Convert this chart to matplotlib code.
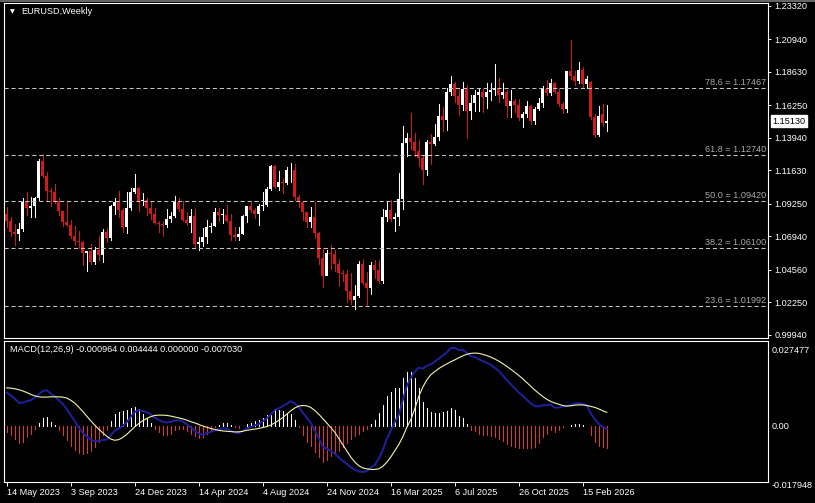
import matplotlib
matplotlib.use('Agg')
import matplotlib.pyplot as plt
import matplotlib.transforms as mtransforms
from matplotlib.lines import Line2D

# weekly EURUSD candles, first bar = week of 14 May 2023
opens = [1.0850, 1.0805, 1.0722, 1.0708, 1.0749, 1.0940, 1.0894, 1.0910, 1.0968, 1.1228,
         1.1125, 1.1016, 1.1006, 1.0948, 1.0872, 1.0795, 1.0775, 1.0700, 1.0660, 1.0652,
         1.0573, 1.0588, 1.0510, 1.0594, 1.0565, 1.0727, 1.0684, 1.0913, 1.0940, 1.0884,
         1.0762, 1.0896, 1.1012, 1.1039, 1.0942, 1.0951, 1.0897, 1.0853, 1.0787, 1.0784,
         1.0777, 1.0820, 1.0838, 1.0939, 1.0888, 1.0807, 1.0790, 1.0837, 1.0643, 1.0656,
         1.0693, 1.0761, 1.0771, 1.0869, 1.0847, 1.0848, 1.0801, 1.0703, 1.0693, 1.0713,
         1.0841, 1.0907, 1.0883, 1.0855, 1.0911, 1.0918, 1.1027, 1.1193, 1.1048, 1.1082,
         1.1075, 1.1163, 1.1164, 1.0975, 1.0936, 1.0866, 1.0797, 1.0833, 1.0719, 1.0538,
         1.0415, 1.0577, 1.0567, 1.0500, 1.0431, 1.0427, 1.0308, 1.0244, 1.0272, 1.0495,
         1.0362, 1.0329, 1.0491, 1.0459, 1.0375, 1.0834, 1.0882, 1.0815, 1.0830, 1.0961,
         1.1357, 1.1395, 1.1364, 1.1298, 1.1252, 1.1164, 1.1365, 1.1347, 1.1397, 1.1550,
         1.1523, 1.1718, 1.1778, 1.1689, 1.1627, 1.1742, 1.1587, 1.1642, 1.1700, 1.1718,
         1.1685, 1.1717, 1.1733, 1.1745, 1.1700, 1.1717, 1.1620, 1.1654, 1.1627, 1.1535,
         1.1565, 1.1620, 1.1513, 1.1597, 1.1643, 1.1740, 1.1710, 1.1780, 1.1720, 1.1635,
         1.1595, 1.1870, 1.1835, 1.1800, 1.1875, 1.1775, 1.1790, 1.1545, 1.1415, 1.1560,
         1.1500]
highs = [1.0905, 1.0830, 1.0780, 1.0790, 1.0970, 1.1012, 1.0975, 1.0975, 1.1245, 1.1276,
         1.1150, 1.1040, 1.1065, 1.0965, 1.0875, 1.0945, 1.0810, 1.0770, 1.0735, 1.0660,
         1.0590, 1.0640, 1.0620, 1.0695, 1.0750, 1.0755, 1.0915, 1.0965, 1.1017, 1.0895,
         1.1010, 1.1040, 1.1140, 1.1045, 1.1000, 1.0970, 1.0935, 1.0895, 1.0805, 1.0805,
         1.0888, 1.0865, 1.0981, 1.0965, 1.0942, 1.0865, 1.0885, 1.0885, 1.0690, 1.0755,
         1.0812, 1.0790, 1.0895, 1.0895, 1.0890, 1.0915, 1.0852, 1.0762, 1.0760, 1.0845,
         1.0910, 1.0948, 1.0895, 1.0925, 1.1009, 1.1047, 1.1201, 1.1202, 1.1155, 1.1100,
         1.1190, 1.1214, 1.1210, 1.0985, 1.0945, 1.0870, 1.0905, 1.0935, 1.0725, 1.0610,
         1.0595, 1.0630, 1.0595, 1.0535, 1.0455, 1.0455, 1.0437, 1.0350, 1.0520, 1.0533,
         1.0440, 1.0513, 1.0528, 1.0530, 1.0888, 1.0947, 1.0955, 1.0860, 1.1145, 1.1475,
         1.1425, 1.1573, 1.1425, 1.1380, 1.1265, 1.1375, 1.1420, 1.1495, 1.1631, 1.1615,
         1.1745, 1.1830, 1.1790, 1.1745, 1.1790, 1.1770, 1.1700, 1.1730, 1.1742, 1.1740,
         1.1780, 1.1780, 1.1919, 1.1820, 1.1780, 1.1730, 1.1730, 1.1670, 1.1670, 1.1580,
         1.1655, 1.1630, 1.1610, 1.1680, 1.1765, 1.1805, 1.1810, 1.1790, 1.1745, 1.1650,
         1.1870, 1.2085, 1.1870, 1.1935, 1.1895, 1.1830, 1.1800, 1.1560, 1.1620, 1.1635,
         1.1630]
lows = [1.0760, 1.0700, 1.0635, 1.0665, 1.0730, 1.0845, 1.0835, 1.0835, 1.0955, 1.1115,
        1.0945, 1.0912, 1.0930, 1.0845, 1.0765, 1.0770, 1.0685, 1.0630, 1.0615, 1.0488,
        1.0448, 1.0495, 1.0495, 1.0525, 1.0515, 1.0655, 1.0665, 1.0850, 1.0830, 1.0725,
        1.0720, 1.0880, 1.1005, 1.0875, 1.0915, 1.0845, 1.0820, 1.0780, 1.0722, 1.0695,
        1.0760, 1.0795, 1.0835, 1.0875, 1.0800, 1.0775, 1.0725, 1.0622, 1.0601, 1.0625,
        1.0650, 1.0723, 1.0765, 1.0805, 1.0790, 1.0795, 1.0670, 1.0670, 1.0665, 1.0710,
        1.0795, 1.0870, 1.0825, 1.0775, 1.0880, 1.0910, 1.1025, 1.1040, 1.1025, 1.1000,
        1.1065, 1.1080, 1.0950, 1.0900, 1.0812, 1.0760, 1.0760, 1.0680, 1.0495, 1.0333,
        1.0425, 1.0460, 1.0450, 1.0343, 1.0380, 1.0225, 1.0215, 1.0178, 1.0265, 1.0355,
        1.0210, 1.0285, 1.0400, 1.0360, 1.0360, 1.0805, 1.0800, 1.0735, 1.0775, 1.0885,
        1.1265, 1.1315, 1.1265, 1.1195, 1.1065, 1.1130, 1.1210, 1.1345, 1.1375, 1.1445,
        1.1450, 1.1700, 1.1645, 1.1555, 1.1590, 1.1391, 1.1530, 1.1585, 1.1585, 1.1575,
        1.1605, 1.1660, 1.1700, 1.1645, 1.1680, 1.1540, 1.1545, 1.1575, 1.1520, 1.1470,
        1.1545, 1.1490, 1.1495, 1.1590, 1.1615, 1.1700, 1.1700, 1.1715, 1.1620, 1.1570,
        1.1575, 1.1810, 1.1770, 1.1780, 1.1755, 1.1745, 1.1530, 1.1400, 1.1410, 1.1480,
        1.1440]
closes = [1.0805, 1.0722, 1.0708, 1.0749, 1.0940, 1.0894, 1.0910, 1.0968, 1.1228, 1.1125,
          1.1016, 1.1006, 1.0948, 1.0872, 1.0795, 1.0775, 1.0700, 1.0660, 1.0652, 1.0573,
          1.0588, 1.0510, 1.0594, 1.0565, 1.0727, 1.0684, 1.0913, 1.0940, 1.0884, 1.0762,
          1.0896, 1.1012, 1.1039, 1.0942, 1.0951, 1.0897, 1.0853, 1.0787, 1.0784, 1.0777,
          1.0820, 1.0838, 1.0939, 1.0888, 1.0807, 1.0790, 1.0837, 1.0643, 1.0656, 1.0693,
          1.0761, 1.0771, 1.0869, 1.0847, 1.0848, 1.0801, 1.0703, 1.0693, 1.0713, 1.0841,
          1.0907, 1.0883, 1.0855, 1.0911, 1.0918, 1.1027, 1.1193, 1.1048, 1.1082, 1.1075,
          1.1163, 1.1164, 1.0975, 1.0936, 1.0866, 1.0797, 1.0833, 1.0719, 1.0538, 1.0415,
          1.0577, 1.0567, 1.0500, 1.0431, 1.0427, 1.0308, 1.0244, 1.0272, 1.0495, 1.0362,
          1.0329, 1.0491, 1.0459, 1.0375, 1.0834, 1.0882, 1.0815, 1.0830, 1.0961, 1.1357,
          1.1395, 1.1364, 1.1298, 1.1252, 1.1164, 1.1365, 1.1347, 1.1397, 1.1550, 1.1523,
          1.1718, 1.1778, 1.1689, 1.1627, 1.1742, 1.1587, 1.1642, 1.1700, 1.1718, 1.1685,
          1.1717, 1.1733, 1.1745, 1.1700, 1.1717, 1.1620, 1.1654, 1.1627, 1.1535, 1.1565,
          1.1620, 1.1513, 1.1597, 1.1643, 1.1740, 1.1710, 1.1780, 1.1720, 1.1635, 1.1595,
          1.1865, 1.1830, 1.1800, 1.1875, 1.1775, 1.1815, 1.1545, 1.1415, 1.1550, 1.1500,
          1.1513]

# MACD(12,26,9) panel
macd_hist = [-0.0020, -0.0030, -0.0041, -0.0054, -0.0050, -0.0036, -0.0025, -0.0009, 0.0011, 0.0026,
             0.0029, 0.0013, 0.0002, -0.0014, -0.0028, -0.0046, -0.0063, -0.0076, -0.0086, -0.0090,
             -0.0086, -0.0079, -0.0068, -0.0050, -0.0030, -0.0014, 0.0015, 0.0040, 0.0045, 0.0048,
             0.0051, 0.0058, 0.0062, 0.0056, 0.0040, 0.0026, 0.0011, -0.0009, -0.0019, -0.0028,
             -0.0030, -0.0025, -0.0014, -0.0009, -0.0011, -0.0017, -0.0025, -0.0032, -0.0039, -0.0036,
             -0.0025, -0.0014, -0.0004, 0.0004, 0.0011, 0.0011, 0.0004, -0.0002, -0.0005, 0.0001,
             0.0008, 0.0011, 0.0015, 0.0018, 0.0026, 0.0035, 0.0043, 0.0054, 0.0051, 0.0048,
             0.0043, 0.0040, 0.0018, -0.0003, -0.0030, -0.0050, -0.0065, -0.0084, -0.0100, -0.0117,
             -0.0108, -0.0097, -0.0090, -0.0079, -0.0068, -0.0054, -0.0043, -0.0032, -0.0025, -0.0017,
             -0.0009, 0.0008, 0.0018, 0.0043, 0.0067, 0.0097, 0.0110, 0.0121, 0.0123, 0.0153,
             0.0173, 0.0175, 0.0156, 0.0121, 0.0078, 0.0058, 0.0044, 0.0041, 0.0041, 0.0044,
             0.0048, 0.0057, 0.0051, 0.0031, 0.0025, 0.0006, -0.0012, -0.0017, -0.0025, -0.0028,
             -0.0030, -0.0032, -0.0036, -0.0041, -0.0049, -0.0057, -0.0063, -0.0068, -0.0071, -0.0072,
             -0.0072, -0.0071, -0.0068, -0.0054, -0.0036, -0.0025, -0.0014, -0.0020, -0.0014, -0.0004,
             0.0000, 0.0004, 0.0007, 0.0007, 0.0004, 0.0001, -0.0030, -0.0050, -0.0063, -0.0068,
             -0.0070]
macd_line = [0.0108, 0.0099, 0.0088, 0.0075, 0.0075, 0.0080, 0.0083, 0.0090, 0.0102, 0.0113,
             0.0115, 0.0104, 0.0096, 0.0083, 0.0071, 0.0055, 0.0035, 0.0016, -0.0005, -0.0022,
             -0.0034, -0.0044, -0.0049, -0.0048, -0.0045, -0.0044, -0.0030, -0.0015, -0.0009, 0.0000,
             0.0012, 0.0030, 0.0045, 0.0051, 0.0048, 0.0044, 0.0038, 0.0027, 0.0020, 0.0013,
             0.0011, 0.0013, 0.0018, 0.0019, 0.0015, 0.0006, -0.0005, -0.0015, -0.0025, -0.0028,
             -0.0023, -0.0019, -0.0014, -0.0011, -0.0008, -0.0009, -0.0015, -0.0021, -0.0023, -0.0016,
             -0.0008, -0.0004, 0.0002, 0.0006, 0.0015, 0.0025, 0.0036, 0.0052, 0.0057, 0.0064,
             0.0071, 0.0080, 0.0072, 0.0062, 0.0043, 0.0027, 0.0010, -0.0015, -0.0039, -0.0066,
             -0.0073, -0.0080, -0.0089, -0.0101, -0.0112, -0.0122, -0.0133, -0.0141, -0.0147, -0.0148,
             -0.0145, -0.0134, -0.0126, -0.0105, -0.0078, -0.0042, -0.0015, 0.0013, 0.0035, 0.0083,
             0.0128, 0.0155, 0.0175, 0.0188, 0.0185, 0.0193, 0.0199, 0.0207, 0.0217, 0.0227,
             0.0237, 0.0251, 0.0252, 0.0244, 0.0245, 0.0236, 0.0225, 0.0222, 0.0215, 0.0209,
             0.0204, 0.0197, 0.0188, 0.0177, 0.0163, 0.0148, 0.0135, 0.0121, 0.0108, 0.0097,
             0.0085, 0.0073, 0.0064, 0.0063, 0.0067, 0.0067, 0.0068, 0.0059, 0.0059, 0.0063,
             0.0064, 0.0068, 0.0072, 0.0073, 0.0071, 0.0067, 0.0040, 0.0022, 0.0007, -0.0003,
             -0.0010]
signal_line = [0.0123, 0.0122, 0.0120, 0.0117, 0.0113, 0.0108, 0.0102, 0.0097, 0.0094, 0.0093,
               0.0093, 0.0094, 0.0094, 0.0094, 0.0093, 0.0090, 0.0083, 0.0074, 0.0061, 0.0047,
               0.0032, 0.0017, 0.0003, -0.0010, -0.0022, -0.0033, -0.0042, -0.0046, -0.0044, -0.0037,
               -0.0027, -0.0015, -0.0003, 0.0008, 0.0017, 0.0024, 0.0030, 0.0034, 0.0035, 0.0035,
               0.0034, 0.0032, 0.0029, 0.0026, 0.0023, 0.0019, 0.0014, 0.0010, 0.0005, 0.0000,
               -0.0004, -0.0008, -0.0011, -0.0014, -0.0016, -0.0017, -0.0018, -0.0019, -0.0019, -0.0017,
               -0.0014, -0.0012, -0.0010, -0.0008, -0.0005, -0.0002, 0.0003, 0.0010, 0.0018, 0.0027,
               0.0038, 0.0049, 0.0058, 0.0064, 0.0066, 0.0065, 0.0060, 0.0050, 0.0038, 0.0024,
               0.0010, -0.0005, -0.0020, -0.0040, -0.0060, -0.0080, -0.0100, -0.0116, -0.0128, -0.0135,
               -0.0138, -0.0140, -0.0140, -0.0138, -0.0130, -0.0117, -0.0100, -0.0080, -0.0060, -0.0035,
               -0.0005, 0.0020, 0.0055, 0.0095, 0.0125, 0.0148, 0.0165, 0.0175, 0.0185, 0.0193,
               0.0200, 0.0207, 0.0213, 0.0220, 0.0226, 0.0231, 0.0234, 0.0235, 0.0234, 0.0231,
               0.0227, 0.0222, 0.0216, 0.0209, 0.0201, 0.0192, 0.0183, 0.0173, 0.0163, 0.0152,
               0.0140, 0.0128, 0.0116, 0.0105, 0.0095, 0.0086, 0.0079, 0.0074, 0.0070, 0.0066,
               0.0064, 0.0065, 0.0067, 0.0068, 0.0068, 0.0066, 0.0063, 0.0060, 0.0055, 0.0049,
               0.0044]

fib_levels = ['78.6', '61.8', '50.0', '38.2', '23.6']
fib_prices = [1.17467, 1.12740, 1.09420, 1.06100, 1.01992]

price_ticks = [1.23320, 1.20940, 1.18630, 1.16250, 1.13940, 1.11630,
               1.09250, 1.06940, 1.04560, 1.02250, 0.99940]
date_labels = ['14 May 2023', '3 Sep 2023', '24 Dec 2023', '14 Apr 2024', '4 Aug 2024',
               '24 Nov 2024', '16 Mar 2025', '6 Jul 2025', '26 Oct 2025', '15 Feb 2026']
date_bars = [0, 16, 32, 48, 64, 80, 96, 112, 128, 144]
last_price = 1.15130

plt.rcParams['font.family'] = ['Liberation Sans', 'DejaVu Sans']
plt.rcParams['font.size'] = 6.6
plt.rcParams['lines.scale_dashes'] = False

RED = '#d21a1a'
HIST_RED = '#e63232'
n = len(closes)
xs = list(range(n))

fig = plt.figure(figsize=(8.15, 5.03), dpi=100, facecolor='black')
ax = fig.add_axes([0.00552, 0.32863, 0.93681, 0.66481], facecolor='black')
ax2 = fig.add_axes([0.00552, 0.04235, 0.93681, 0.28031], facecolor='black')

# window frame line at the very top
fig.add_artist(Line2D([0, 1], [0.999, 0.999], color='#7a7a7a', lw=1.2))

# candles
cols = ['white' if c >= o else RED for o, c in zip(opens, closes)]
ax.vlines(xs, lows, highs, colors=cols, lw=0.55, antialiased=False)
bodies = [max(abs(c - o), 0.0003) for o, c in zip(opens, closes)]
bottoms = [min(o, c) for o, c in zip(opens, closes)]
ax.bar(xs, bodies, bottom=bottoms, width=0.7, color=cols, lw=0, antialiased=False)

# fibonacci levels
ymix = mtransforms.blended_transform_factory(ax.transAxes, ax.transData)
for lvl, p in zip(fib_levels, fib_prices):
    ax.axhline(p, color='#c4c4c4', lw=0.75, dashes=(3, 2))
    ax.annotate(f'{lvl} = {p:.5f}', xy=(1, p), xycoords=ymix, xytext=(-1.2, 0.8),
                textcoords='offset points', ha='right', va='bottom', color='#a8a8a8')

ax.set_xlim(-0.55, 190.3)
ax.set_ylim(0.99748, 1.23490)
ax.set_xticks([])
ax.yaxis.tick_right()
ax.set_yticks(price_ticks)
ax.set_yticklabels([f'{t:.5f}' for t in price_ticks])
ax.tick_params(axis='y', colors='white', labelcolor='white', length=2.3, width=0.7, pad=2.3)
for s in ax.spines.values():
    s.set_color('white')
    s.set_linewidth(0.8)

# current price box
ax.annotate(f'{last_price:.5f}', xy=(1, last_price), xycoords=ymix, xytext=(3.2, 0),
            textcoords='offset points', ha='left', va='center', color='black',
            bbox=dict(boxstyle='square,pad=0.2', fc='white', ec='white'), annotation_clip=False)

fig.text(9.5 / 815, 1 - 12 / 503, '\u25BC', color='white', fontsize=4.5,
         family='DejaVu Sans', va='center')
fig.text(21 / 815, 1 - 12 / 503, 'EURUSD,Weekly', color='white', va='center')

# MACD panel
hcols = ['white' if h >= 0 else HIST_RED for h in macd_hist]
ax2.vlines(xs, 0, macd_hist, colors=hcols, lw=0.7, antialiased=False)
ax2.plot(xs, macd_line, color='#2020a0', lw=1.4)
ax2.plot(xs, signal_line, color='#f4f4a8', lw=0.8)

ax2.set_xlim(-0.55, 190.3)
ax2.set_ylim(-0.017948, 0.027477)
ax2.set_xticks(date_bars)
ax2.set_xticklabels(date_labels, ha='left')
ax2.tick_params(axis='x', colors='white', labelcolor='white', length=3.2, width=0.7, pad=1.2)
ax2.yaxis.tick_right()
ax2.set_yticks([0.0])
ax2.set_yticklabels(['0.00'])
ax2.tick_params(axis='y', colors='white', labelcolor='white', length=0, pad=2.8)
for s in ax2.spines.values():
    s.set_color('white')
    s.set_linewidth(0.8)

ax2.text(1.0049, 0.934, '0.027477', transform=ax2.transAxes, color='white', va='center')
ax2.text(1.0049, -0.028, '-0.017948', transform=ax2.transAxes, color='white', va='center')
ax2.text(0.0072, 0.935, 'MACD(12,26,9) -0.000964 0.004444 0.000000 -0.007030',
         transform=ax2.transAxes, color='white', va='center')

fig.savefig('out.png', dpi=100, facecolor='black')
